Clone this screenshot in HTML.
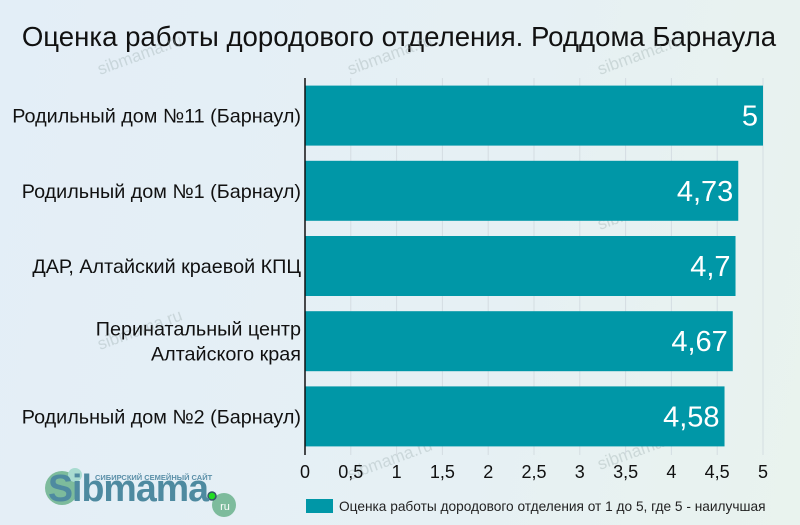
<!DOCTYPE html>
<html><head><meta charset="utf-8"><style>
body{margin:0;}
#wrap{position:relative;width:800px;height:525px;overflow:hidden;background:linear-gradient(100deg,#e3eef7 0%,#e6f0f4 60%,#e9f3ee 100%);font-family:"Liberation Sans",sans-serif;}
svg text{font-family:"Liberation Sans",sans-serif;}
</style></head><body>
<div id="wrap">
<svg id="chart" width="800" height="525">
<text x="399" y="46" text-anchor="middle" font-size="27.6" fill="#111">Оценка работы дородового отделения. Роддома Барнаула</text>
<g id="wm" fill="#9aa" opacity="0.35" font-size="17" font-family="Liberation Serif">
<text transform="translate(100,75) rotate(-20)">sibmama.ru</text>
<text transform="translate(350,75) rotate(-20)">sibmama.ru</text>
<text transform="translate(600,75) rotate(-20)">sibmama.ru</text>
<text transform="translate(350,220) rotate(-20)">sibmama.ru</text>
<text transform="translate(600,230) rotate(-20)">sibmama.ru</text>
<text transform="translate(100,350) rotate(-20)">sibmama.ru</text>
<text transform="translate(350,360) rotate(-20)">sibmama.ru</text>
<text transform="translate(600,360) rotate(-20)">sibmama.ru</text>
<text transform="translate(350,480) rotate(-20)">sibmama.ru</text>
<text transform="translate(600,470) rotate(-20)">sibmama.ru</text>
</g>
<g id="grid"></g><g id="bars"></g><g id="ylabels"></g><g id="xticks"></g>
<line x1="305" y1="78" x2="305" y2="455" stroke="#111" stroke-width="1.5"/>
<g>
<rect x="306" y="499" width="27" height="14" fill="#0097a7"/>
<text x="339" y="511" font-size="13.7" fill="#222">Оценка работы дородового отделения от 1 до 5, где 5 - наилучшая</text>
</g>
<g>
<circle cx="62" cy="488" r="17" fill="#7dbb9c"/>
<circle cx="75" cy="475" r="7" fill="#a8dbd0"/>
<circle cx="224" cy="505" r="12" fill="#7dbb9c"/>
<text x="225" y="510" font-size="11" fill="#fff" text-anchor="middle" font-family="Liberation Serif">ru</text>
<circle cx="212" cy="496" r="4" fill="#2d2" stroke="#356" stroke-width="1.5"/>
<text x="95" y="480" font-size="7.5" fill="#5a8fa8" font-weight="bold">СИБИРСКИЙ СЕМЕЙНЫЙ САЙТ</text>
<text x="48" y="501" font-size="38" fill="#4e8aa0" font-family="Liberation Serif" font-weight="bold" letter-spacing="-1" textLength="160" lengthAdjust="spacingAndGlyphs">Sibmama</text>
</g>
</svg>
</div>
<script>
const categories=["Родильный дом №11 (Барнаул)","Родильный дом №1 (Барнаул)","ДАР, Алтайский краевой КПЦ","Перинатальный центр|Алтайского края","Родильный дом №2 (Барнаул)"];
const values=[5,4.73,4.7,4.67,4.58];
const valueLabels=["5","4,73","4,7","4,67","4,58"];
const tickValues=[0,0.5,1,1.5,2,2.5,3,3.5,4,4.5,5];
const tickLabels=["0","0,5","1","1,5","2","2,5","3","3,5","4","4,5","5"];
const NS="http://www.w3.org/2000/svg";
const x0=305,x1=763,xmax=5;
const xs=v=>x0+(x1-x0)*v/xmax;
const top0=78,band=75.2,barH=60,pad=(band-barH)/2;
const ys=i=>top0+i*band+pad;
function mk(tag,attrs,parent){const e=document.createElementNS(NS,tag);for(const k in attrs)e.setAttribute(k,attrs[k]);document.getElementById(parent).appendChild(e);return e;}
tickValues.forEach((t,i)=>{
  if(t>0){const g=mk('line',{x1:xs(t),x2:xs(t),y1:top0,y2:455,stroke:'#d4dde2','stroke-width':1},'grid');
  
  }
  const tx=mk('text',{x:xs(t),y:478,'text-anchor':'middle','font-size':18,fill:'#111'},'xticks');
  tx.textContent=tickLabels[i];
  
  
});
values.forEach((v,i)=>{
  const r=mk('rect',{x:x0,y:ys(i),width:xs(v)-x0,height:barH,fill:'#0097a7'},'bars');
  
  
  const t=mk('text',{x:xs(v)-5,y:ys(i)+barH/2+10,'text-anchor':'end','font-size':29,fill:'#fff'},'bars');
  t.textContent=valueLabels[i];
  
  
  const lines=categories[i].split('|');
  const cy=ys(i)+barH/2;
  lines.forEach((ln,j)=>{
    const l=mk('text',{x:301,y:cy+7+(j-(lines.length-1)/2)*25,'text-anchor':'end','font-size':19.8,fill:'#111'},'ylabels');
    l.textContent=ln;
    
    
  });
});
</script>
</body></html>
